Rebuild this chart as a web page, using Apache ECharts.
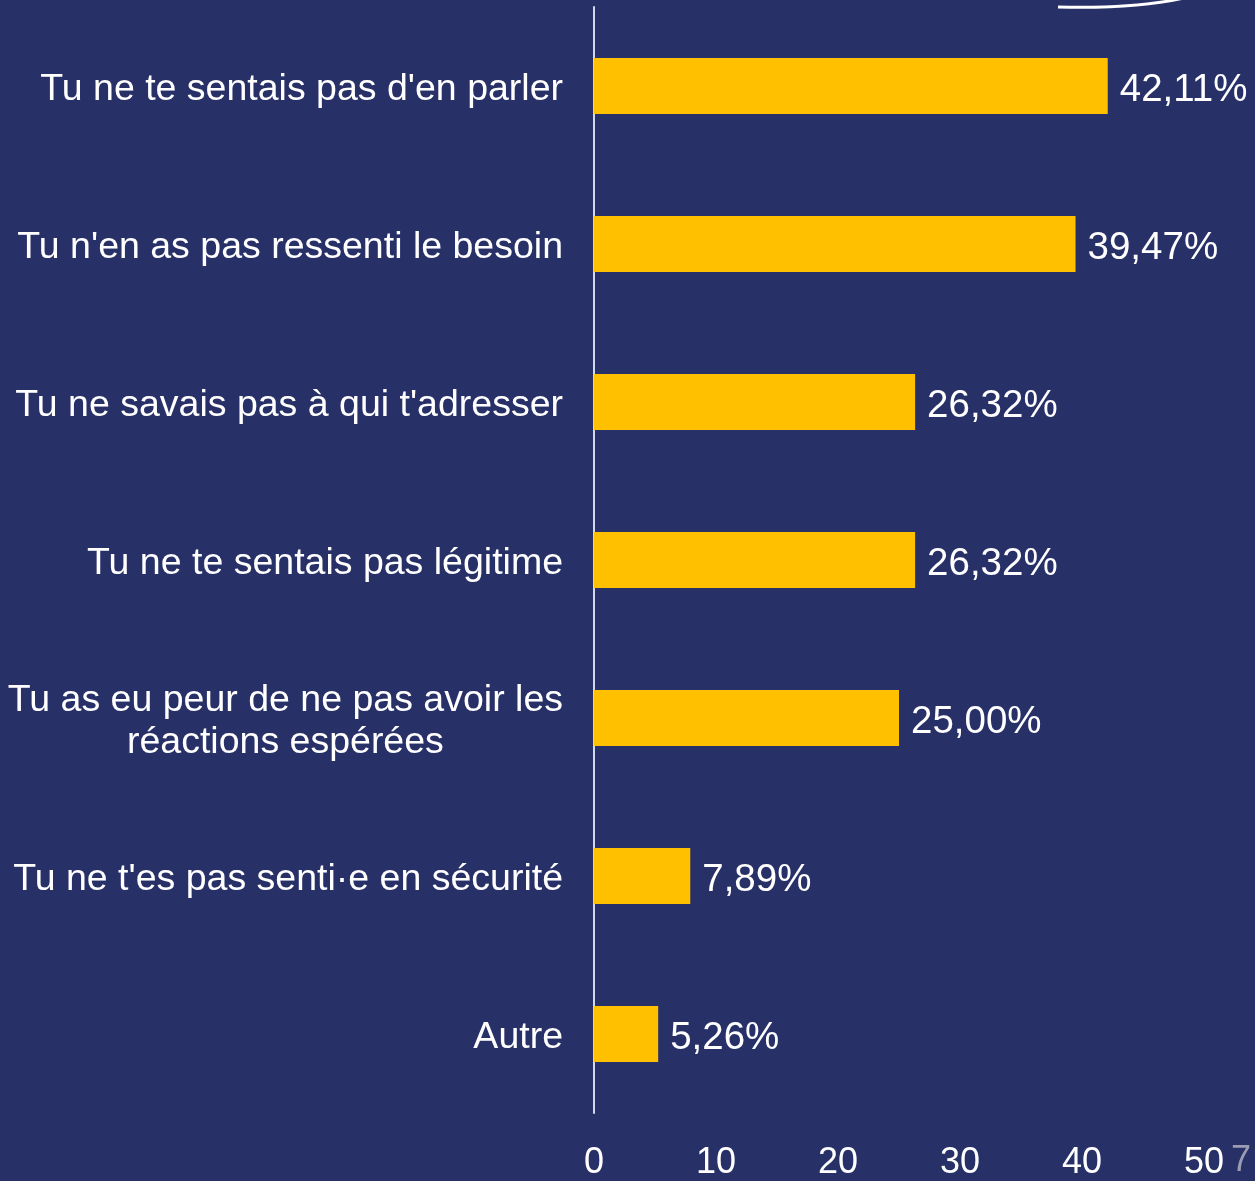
<!DOCTYPE html>
<html>
<head>
<meta charset="utf-8">
<script src="https://cdn.jsdelivr.net/npm/echarts@6/dist/echarts.min.js"></script>
<style>
  html, body { margin: 0; padding: 0; background: #283068; }
  #chart { width: 1255px; height: 1181px; }
</style>
</head>
<body>
<div id="chart"></div>
<script>
// categories, top to bottom
const categories = [
  "Tu ne te sentais pas d'en parler",
  "Tu n'en as pas ressenti le besoin",
  "Tu ne savais pas à qui t'adresser",
  "Tu ne te sentais pas légitime",
  "Tu as eu peur de ne pas avoir les\nréactions espérées",
  "Tu ne t'es pas senti·e en sécurité",
  "Autre"
];
// percentages
const values = [42.11, 39.47, 26.32, 26.32, 25.00, 7.89, 5.26];
const xTicks = [0, 10, 20, 30, 40, 50];
const pageNumber = "7";

const font = "Arial, 'Liberation Sans', sans-serif";

const chart = echarts.init(document.getElementById("chart"));
chart.setOption({
  backgroundColor: "#283068",
  animation: false,
  grid: { left: 594, right: 51, top: 7, bottom: 66 },
  xAxis: {
    type: "value",
    min: xTicks[0],
    max: xTicks[xTicks.length - 1],
    interval: 10,
    axisLine: { show: false },
    axisTick: { show: false },
    splitLine: { show: false },
    axisLabel: {
      color: "#ffffff",
      fontSize: 36,
      fontFamily: font,
      margin: 32
    }
  },
  yAxis: {
    type: "category",
    inverse: true,
    data: categories,
    axisLine: { lineStyle: { color: "#d4d6ec", width: 2 } },
    axisTick: { show: false },
    axisLabel: {
      color: "#ffffff",
      fontSize: 37.5,
      fontFamily: font,
      margin: 31,
      lineHeight: 42,
      padding: [7, 0, 0, 0],
      // multi-line labels are centred line by line
      formatter: function (v) {
        return v.split("\n").map(function (l) { return "{c|" + l + "}"; }).join("\n");
      },
      rich: {
        c: { align: "center", color: "#ffffff", fontSize: 37.5, fontFamily: font, lineHeight: 42 }
      }
    }
  },
  series: [{
    type: "bar",
    data: values,
    barWidth: 56,
    itemStyle: { color: "#ffc000" },
    label: {
      show: true,
      position: "right",
      distance: 12,
      offset: [0, 4],
      color: "#ffffff",
      fontSize: 38.5,
      fontFamily: font,
      formatter: function (p) {
        return p.value.toFixed(2).replace(".", ",") + "%";
      }
    }
  }],
  graphic: [
    {
      type: "bezierCurve",
      shape: { x1: 1058, y1: 7, cpx1: 1140, cpy1: 9, x2: 1188, y2: -3 },
      style: { stroke: "#ffffff", lineWidth: 3, fill: null }
    },
    {
      type: "text",
      left: 1231,
      top: 1143,
      style: { text: pageNumber, fill: "#9a9cb4", fontSize: 36, fontFamily: font }
    }
  ]
});
</script>
</body>
</html>
